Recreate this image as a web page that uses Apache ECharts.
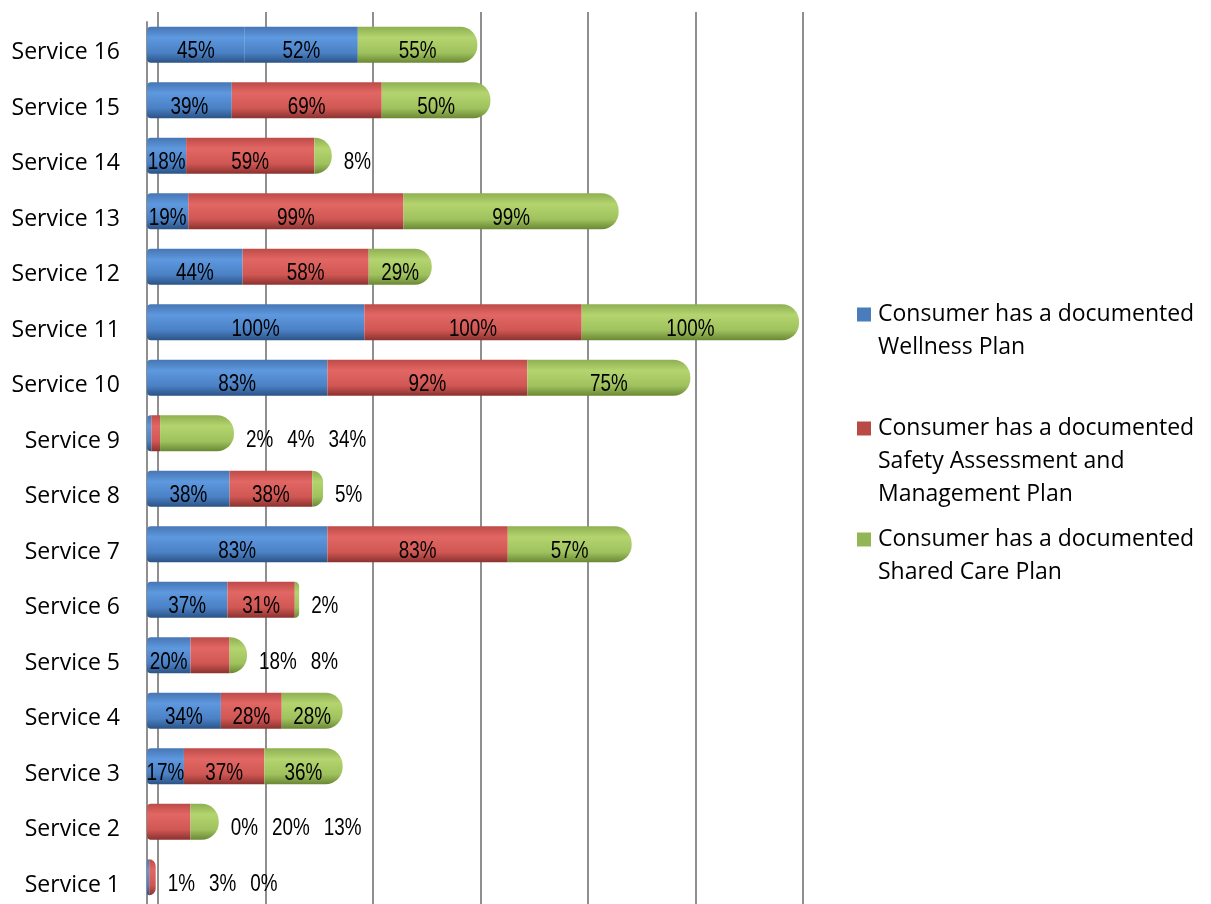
<!DOCTYPE html>
<html>
<head>
<meta charset="utf-8">
<title>Consumer plans by service</title>
<script src="https://cdn.jsdelivr.net/npm/echarts@6/dist/echarts.min.js"></script>
<style>
  html, body { margin: 0; padding: 0; background: #fff; overflow: hidden; }
  /* taller than the window: the plot runs off the bottom edge like the source */
  #chart { width: 1211px; height: 930px; }
</style>
</head>
<body>
<div id="chart"></div>
<script>
// categories run bottom -> top on the y axis
const categories = [
  'Service 1', 'Service 2', 'Service 3', 'Service 4', 'Service 5', 'Service 6',
  'Service 7', 'Service 8', 'Service 9', 'Service 10', 'Service 11', 'Service 12',
  'Service 13', 'Service 14', 'Service 15', 'Service 16',
]
const wellness = [1, 0, 17, 34, 20, 37, 83, 38, 2, 83, 100, 44, 19, 18, 39, 45]
const safety = [3, 20, 37, 28, 18, 31, 83, 38, 4, 92, 100, 58, 99, 59, 69, 52]
const shared = [0, 13, 36, 28, 8, 2, 57, 5, 34, 75, 100, 29, 99, 8, 50, 55]

// index of the first series whose label sits past the bar end (3 = all inside)
const labelOutsideFrom = [0, 0, 3, 3, 1, 2, 3, 2, 0, 3, 3, 3, 3, 2, 3, 3]
// in the source the safety segment of these rows is drawn in the wellness colour
const safetyDrawnBlue = ['Service 16']

const seriesNames = [
  'Consumer has a documented\nWellness Plan',
  'Consumer has a documented\nSafety Assessment and\nManagement Plan',
  'Consumer has a documented\nShared Care Plan',
]
const seriesValues = [wellness, safety, shared]

const palette = [
  { top: '#4676b4', light: '#5e98de', mid: '#4b81c5', dark: '#2b5386', key: '#4a7bbb' },
  { top: '#bd4b48', light: '#e26764', mid: '#d05753', dark: '#8a3230', key: '#b94a47' },
  { top: '#8fb052', light: '#b3d46e', mid: '#a0c25e', dark: '#6a8834', key: '#93b556' },
]

// data labels: Arial squeezed to look like Arial Narrow
const labelFont = '23px "Liberation Sans", Arial, sans-serif'
const labelSquash = 0.82
const textFont = '"Open Sans", "Noto Sans", sans-serif'
const axisGrey = '#8f8f8f'

const measureCtx = document.createElement('canvas').getContext('2d')
measureCtx.font = labelFont
const labelWidth = t => measureCtx.measureText(t).width * labelSquash

function cylinder(c) {
  return new echarts.graphic.LinearGradient(0, 0, 0, 1, [
    { offset: 0, color: c.top },
    { offset: 0.3, color: c.light },
    { offset: 0.72, color: c.mid },
    { offset: 1, color: c.dark },
  ])
}

function barData(s) {
  return seriesValues[s].map((v, i) => {
    const row = seriesValues.map(arr => arr[i])
    let first = -1, last = -1
    row.forEach((x, k) => { if (x > 0) { if (first < 0) first = k; last = k } })
    const l = s === first ? 4 : 0
    const r = s === last ? 17 : 0
    const item = { value: v, itemStyle: { borderRadius: [l, r, r, l] } }
    if (s === 1 && safetyDrawnBlue.includes(categories[i])) item.itemStyle.color = cylinder(palette[0])
    return item
  })
}

const chart = echarts.init(document.getElementById('chart'))

const barSeries = seriesNames.map((name, s) => ({
  name,
  type: 'bar',
  stack: 'total',
  xAxisIndex: 0,
  yAxisIndex: 0,
  barWidth: 36,
  itemStyle: { color: cylinder(palette[s]) },
  emphasis: { disabled: true },
  data: barData(s),
}))

function labelText(text, x, y, align) {
  return {
    type: 'text',
    x, y,
    scaleX: labelSquash,
    style: { text, font: labelFont, fill: '#000', align, verticalAlign: 'middle' },
  }
}

// every value label; sits a little low in the bar as in the source
const valueLabels = {
  type: 'custom',
  xAxisIndex: 0,
  yAxisIndex: 0,
  silent: true,
  clip: false,
  z: 5,
  encode: { x: 0, y: 1 },
  data: categories.map((c, i) => [wellness[i] + safety[i] + shared[i], i]),
  renderItem(params, api) {
    const i = params.dataIndex
    const from = labelOutsideFrom[i]
    const children = []
    let cum = 0
    for (let s = 0; s < 3; s++) {
      const v = seriesValues[s][i]
      if (s < from) {
        const p = api.coord([cum + v / 2, i])
        children.push(labelText(v + '%', p[0], p[1] + 7, 'center'))
      }
      cum += v
    }
    const end = api.coord([api.value(0), i])
    let x = end[0] + 12
    for (let s = from; s < 3; s++) {
      const t = seriesValues[s][i] + '%'
      children.push(labelText(t, x, end[1] + 7, 'left'))
      x += labelWidth(t) + 14
    }
    return { type: 'group', children }
  },
}

const legendTops = [298, 412, 523]
const legends = seriesNames.map((name, s) => ({
  data: [name],
  left: 847,
  top: legendTops[s],
  orient: 'vertical',
  icon: 'rect',
  itemWidth: 0,
  itemHeight: 0,
  itemStyle: { opacity: 0 },
  selectedMode: false,
  formatter(n) {
    return n.split('\n').map((t, k) => (k === 0 ? '{m|}{g|}' : '{p|}') + '{t|' + t + '}').join('\n')
  },
  textStyle: {
    rich: {
      m: { width: 14, height: 14, backgroundColor: palette[s].key },
      g: { width: 7 },
      p: { width: 21 },
      t: { fontFamily: textFont, fontSize: 23, color: '#000', lineHeight: 33 },
    },
  },
}))

chart.setOption({
  animation: false,
  backgroundColor: '#fff',
  legend: legends,
  grid: [
    { left: 147, top: 17, width: 652, height: 888 },   // bars
    { left: 158, top: 12, width: 645, bottom: 0 },      // back-wall gridlines
    { left: 147, top: 22, width: 652, height: 886 },   // axis line and ticks
    { left: 147, top: 25, width: 652, height: 888 },   // category names
  ],
  xAxis: [
    { type: 'value', gridIndex: 0, min: 0, max: 300, interval: 50, show: false },
    {
      type: 'value', gridIndex: 1, min: 0, max: 300, interval: 50,
      axisLine: { show: false },
      axisTick: { show: false },
      axisLabel: { show: false },
      splitLine: { lineStyle: { color: axisGrey, width: 2 } },
    },
    { type: 'value', gridIndex: 2, min: 0, max: 300, show: false },
    { type: 'value', gridIndex: 3, min: 0, max: 300, show: false },
  ],
  yAxis: [
    { type: 'category', gridIndex: 0, data: categories, show: false },
    { type: 'category', gridIndex: 1, data: categories, show: false },
    {
      type: 'category',
      gridIndex: 2,
      data: categories,
      axisLine: { lineStyle: { color: axisGrey, width: 2 } },
      axisTick: { length: 7, lineStyle: { color: axisGrey, width: 2 } },
      axisLabel: { show: false },
    },
    {
      type: 'category',
      gridIndex: 3,
      data: categories,
      axisLine: { show: false },
      axisTick: { show: false },
      axisLabel: { margin: 27, fontFamily: textFont, fontSize: 23, color: '#000' },
    },
  ],
  series: [...barSeries, valueLabels],
})
</script>
</body>
</html>
